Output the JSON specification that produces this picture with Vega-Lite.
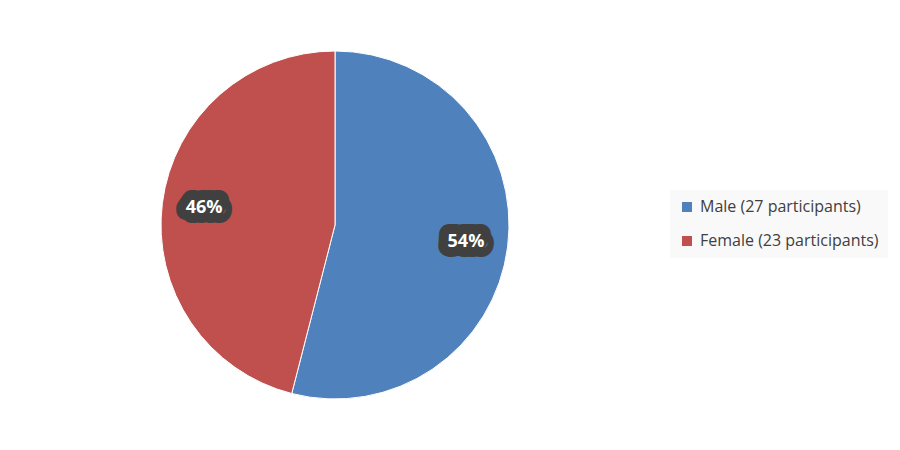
{
  "$schema": "https://vega.github.io/schema/vega-lite/v6.json",
  "width": 670,
  "height": 450,
  "autosize": {"type": "none"},
  "padding": {"left": 0, "top": 0, "right": 230, "bottom": 0},
  "background": "white",
  "config": {"view": {"stroke": null}},
  "data": {
    "values": [
      {"group": "Male (27 participants)", "count": 27, "label": "54%"},
      {"group": "Female (23 participants)", "count": 23, "label": "46%"}
    ]
  },
  "encoding": {
    "theta": {"field": "count", "type": "quantitative", "stack": true},
    "order": {"field": "count", "type": "quantitative", "sort": "descending"}
  },
  "layer": [
    {
      "mark": {"type": "arc", "outerRadius": 174, "stroke": "white", "strokeWidth": 1},
      "encoding": {
        "color": {
          "field": "group",
          "type": "nominal",
          "sort": ["Male (27 participants)", "Female (23 participants)"],
          "scale": {
            "domain": ["Male (27 participants)", "Female (23 participants)"],
            "range": ["#4F81BD", "#C0504D"]
          },
          "legend": {
            "title": null,
            "orient": "none",
            "legendX": 670,
            "legendY": 190,
            "fillColor": "#f9f9f9",
            "padding": 9,
            "symbolType": "square",
            "symbolSize": 100,
            "symbolStrokeWidth": 0,
            "labelFont": "Open Sans",
            "labelFontSize": 16,
            "labelLimit": 400,
            "labelColor": "#404040",
            "rowPadding": 18,
            "labelOffset": 5
          }
        }
      }
    },
    {
      "mark": {
        "type": "text",
        "radius": 132,
        "font": "Open Sans",
        "fontSize": 18,
        "fontWeight": "bold",
        "fill": "#404040",
        "stroke": "#404040",
        "strokeWidth": 20,
        "strokeJoin": "round"
      },
      "encoding": {"text": {"field": "label", "type": "nominal"}}
    },
    {
      "mark": {
        "type": "text",
        "radius": 132,
        "font": "Open Sans",
        "fontSize": 18,
        "fontWeight": "bold",
        "fill": "white"
      },
      "encoding": {"text": {"field": "label", "type": "nominal"}}
    }
  ]
}
